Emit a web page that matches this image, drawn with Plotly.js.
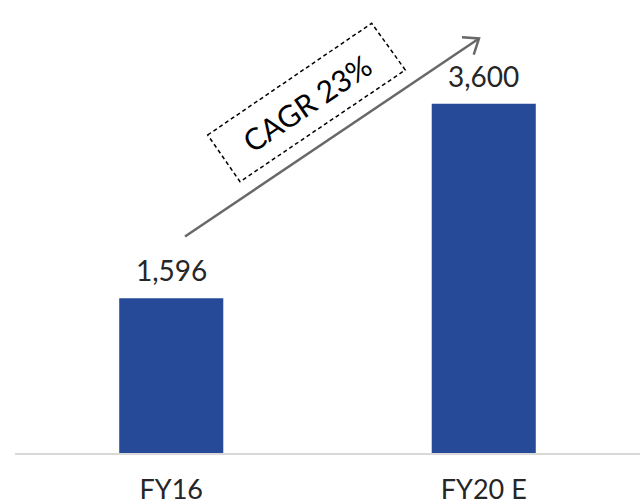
<!DOCTYPE html>
<html>
<head>
<meta charset="utf-8">
<script src="https://cdn.plot.ly/plotly-3.0.1.min.js"></script>
<style>
html, body { margin: 0; padding: 0; background: #ffffff; }
#chart { width: 641px; height: 504px; }
</style>
</head>
<body>
<div id="chart"></div>
<script>
// ---- data ----
const categories = ["FY16", "FY20 E"];
const values = [1596, 3600];
const cagrLabel = "CAGR 23%";

// ---- layout geometry ----
const W = 641, H = 504;
const M = { l: 15, r: 1, t: 65, b: 51 };
const PW = W - M.l - M.r, PH = H - M.t - M.b;
const px = x => (x - M.l) / PW;          // pixel -> paper x
const py = y => (H - M.b - y) / PH;      // pixel -> paper y

const FONT = "Lato, 'Noto Sans', sans-serif";
const TXT = "#262626";

const trace = {
  type: "bar",
  x: categories,
  y: values,
  width: 0.333,
  marker: { color: "#264a97" },
  hoverinfo: "skip"
};

// value labels above bars
const valueAnns = categories.map((c, i) => ({
  x: c, y: values[i], xref: "x", yref: "y",
  text: values[i].toLocaleString("en-US"),
  showarrow: false, yanchor: "bottom", yshift: 9,
  font: { family: FONT, size: 28, color: TXT }
}));

// dashed rotated box corners (pixels)
const box = [[207.7, 135], [371.7, 23.3], [405.3, 70], [240, 181.7]];
const boxPath = box.map((p, i) => (i ? "L" : "M") + px(p[0]).toFixed(5) + "," + py(p[1]).toFixed(5)).join(" ") + " Z";
const cx = box.reduce((s, p) => s + p[0], 0) / 4;
const cy = box.reduce((s, p) => s + p[1], 0) / 4;

// arrow (pixels)
const tail = [185, 236.5], tip = [479, 38.5];
const dx = tail[0] - tip[0], dy = tail[1] - tip[1];
const len = Math.hypot(dx, dy);
const ux = dx / len, uy = dy / len;
const ang = 38 * Math.PI / 180, arm = 17;
const rot = (a) => [ux * Math.cos(a) - uy * Math.sin(a), ux * Math.sin(a) + uy * Math.cos(a)];
const a1 = rot(ang), a2 = rot(-ang);
const armPath = "M" + px(tip[0] + a1[0] * arm) + "," + py(tip[1] + a1[1] * arm) +
  " L" + px(tip[0]) + "," + py(tip[1]) +
  " L" + px(tip[0] + a2[0] * arm) + "," + py(tip[1] + a2[1] * arm);

const layout = {
  width: W, height: H,
  margin: M,
  paper_bgcolor: "#ffffff",
  plot_bgcolor: "#ffffff",
  showlegend: false,
  bargap: 0.667,
  xaxis: {
    type: "category",
    range: [-0.5, 1.5],
    showline: true, linecolor: "#d9d9d9", linewidth: 1.5,
    showgrid: false, zeroline: false,
    ticks: "", ticklabelstandoff: 12,
    tickfont: { family: FONT, size: 27, color: TXT },
    fixedrange: true
  },
  yaxis: {
    range: [0, 4000],
    visible: false,
    showgrid: false, zeroline: false,
    fixedrange: true
  },
  shapes: [
    { type: "path", xref: "paper", yref: "paper", path: boxPath,
      line: { color: "#000000", width: 1.5, dash: "4px,3px" }, fillcolor: "rgba(0,0,0,0)" },
    { type: "line", xref: "paper", yref: "paper",
      x0: px(tail[0]), y0: py(tail[1]), x1: px(tip[0]), y1: py(tip[1]),
      line: { color: "#686868", width: 2.5 } },
    { type: "path", xref: "paper", yref: "paper", path: armPath,
      line: { color: "#686868", width: 2.5 } }
  ],
  annotations: valueAnns.concat([{
    xref: "paper", yref: "paper", x: px(cx), y: py(cy),
    text: cagrLabel, showarrow: false, textangle: -34,
    xanchor: "center", yanchor: "middle",
    font: { family: FONT, size: 30, color: "#000000" }
  }])
};

Plotly.newPlot("chart", [trace], layout, { displayModeBar: false, staticPlot: true });
</script>
</body>
</html>
